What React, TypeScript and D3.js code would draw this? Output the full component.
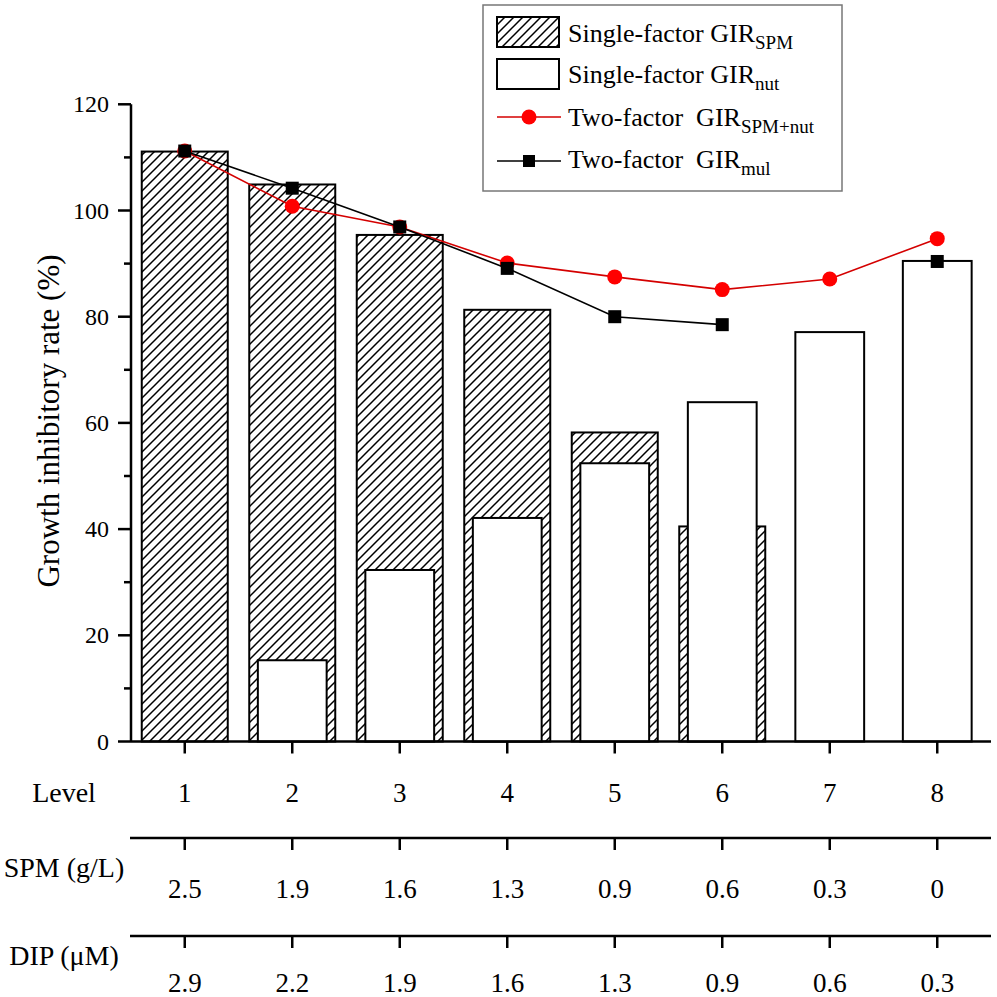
import { useEffect, useRef } from 'react'
import * as d3 from 'd3'

const levels = [1, 2, 3, 4, 5, 6, 7, 8]
const spmLabels = ['2.5', '1.9', '1.6', '1.3', '0.9', '0.6', '0.3', '0']
const dipLabels = ['2.9', '2.2', '1.9', '1.6', '1.3', '0.9', '0.6', '0.3']
const yTicks = [0, 20, 40, 60, 80, 100, 120]

// single-factor bars (null = no bar)
const girSpm = [111.1, 104.9, 95.4, 81.3, 58.2, 40.5, null, null]
const girNut = [null, 15.3, 32.3, 42.1, 52.4, 63.9, 77.1, 90.5]
// two-factor lines
const girSpmNut = [111.2, 100.8, 96.9, 90.1, 87.5, 85.1, 87.1, 94.7]
const girMul = [111.2, 104.2, 96.9, 89.1, 80.0, 78.5, null, 90.4]

const FONT = '"Liberation Serif", "Times New Roman", serif'

export default function App() {
  const ref = useRef<SVGSVGElement>(null)

  useEffect(() => {
    document.body.style.margin = '0'
    if (!ref.current) return
    const svg = d3.select(ref.current)
    svg.selectAll('*').remove()

    const x = d3.scaleLinear().domain([0.5, 8.5]).range([131, 991])
    const y = d3.scaleLinear().domain([0, 120]).range([741.5, 104.3])
    const step = x(2) - x(1)

    const defs = svg.append('defs')
    const pat = defs.append('pattern')
      .attr('id', 'hatch')
      .attr('patternUnits', 'userSpaceOnUse')
      .attr('width', 9).attr('height', 9)
    pat.append('rect').attr('width', 9).attr('height', 9).attr('fill', '#fff')
    pat.append('path')
      .attr('d', 'M0,9 L9,0 M-2,2 L2,-2 M7,11 L11,7')
      .attr('stroke', '#000').attr('stroke-width', 1.5)

    const g = svg.append('g').style('font-family', FONT)

    // hatched bars
    const hw = step * 0.8
    levels.forEach((lv, i) => {
      const v = girSpm[i]
      if (v == null) return
      g.append('rect')
        .attr('x', x(lv) - hw / 2).attr('y', y(v))
        .attr('width', hw).attr('height', y(0) - y(v))
        .attr('fill', 'url(#hatch)').attr('stroke', '#000').attr('stroke-width', 2)
    })

    // white bars
    const ww = step * 0.64
    levels.forEach((lv, i) => {
      const v = girNut[i]
      if (v == null) return
      g.append('rect')
        .attr('x', x(lv) - ww / 2).attr('y', y(v))
        .attr('width', ww).attr('height', y(0) - y(v))
        .attr('fill', '#fff').attr('stroke', '#000').attr('stroke-width', 2)
    })

    // y axis
    g.append('line').attr('x1', x(0.5)).attr('x2', x(0.5)).attr('y1', y(0)).attr('y2', y(120))
      .attr('stroke', '#000').attr('stroke-width', 2.5)
    d3.range(0, 121, 10).forEach(t => {
      const major = t % 20 === 0
      g.append('line')
        .attr('x1', x(0.5) - (major ? 13 : 7)).attr('x2', x(0.5))
        .attr('y1', y(t)).attr('y2', y(t))
        .attr('stroke', '#000').attr('stroke-width', 2.5)
    })
    yTicks.forEach(t => {
      g.append('text').attr('x', 109).attr('y', y(t) + 8)
        .attr('text-anchor', 'end').style('font-size', '24px').text(t)
    })

    g.append('text')
      .attr('transform', `translate(59,${421}) rotate(-90)`)
      .attr('text-anchor', 'middle').style('font-size', '31px')
      .text('Growth inhibitory rate (%)')

    // x axis and table rules
    const rules = [y(0), 838, 936]
    rules.forEach((ry, ri) => {
      g.append('line').attr('x1', ri === 0 ? x(0.5) : 130).attr('x2', x(8.5))
        .attr('y1', ry).attr('y2', ry).attr('stroke', '#000').attr('stroke-width', 2.5)
      levels.forEach(lv => {
        g.append('line').attr('x1', x(lv)).attr('x2', x(lv)).attr('y1', ry).attr('y2', ry + 12)
          .attr('stroke', '#000').attr('stroke-width', 2.5)
      })
    })

    const rows = [
      { label: 'Level', vals: levels.map(String), yLab: 802, yVal: 802 },
      { label: 'SPM (g/L)', vals: spmLabels, yLab: 877, yVal: 898 },
      { label: 'DIP (\u03bcM)', vals: dipLabels, yLab: 965, yVal: 992 },
    ]
    rows.forEach(r => {
      g.append('text').attr('x', 64).attr('y', r.yLab).attr('text-anchor', 'middle')
        .style('font-size', '28px').text(r.label)
      r.vals.forEach((v, i) => {
        g.append('text').attr('x', x(levels[i])).attr('y', r.yVal).attr('text-anchor', 'middle')
          .style('font-size', '27px').text(v)
      })
    })

    // lines
    const line = d3.line<number | null>()
      .defined(d => d != null)
      .x((_, i) => x(levels[i]))
      .y(d => y(d as number))

    g.append('path').datum(girSpmNut).attr('d', line).attr('fill', 'none')
      .attr('stroke', '#d40000').attr('stroke-width', 1.6)
    levels.forEach((lv, i) => {
      const v = girSpmNut[i]
      if (v == null) return
      g.append('circle').attr('cx', x(lv)).attr('cy', y(v)).attr('r', 7.5).attr('fill', '#f00')
    })

    g.append('path').datum(girMul).attr('d', line).attr('fill', 'none')
      .attr('stroke', '#000').attr('stroke-width', 1.6)
    levels.forEach((lv, i) => {
      const v = girMul[i]
      if (v == null) return
      g.append('rect').attr('x', x(lv) - 6.5).attr('y', y(v) - 6.5)
        .attr('width', 13).attr('height', 13).attr('fill', '#000')
    })

    // legend
    const lg = g.append('g')
    lg.append('rect').attr('x', 483).attr('y', 5).attr('width', 359).attr('height', 186)
      .attr('fill', '#fff').attr('stroke', '#777').attr('stroke-width', 1.5)
    lg.append('rect').attr('x', 497).attr('y', 17).attr('width', 62).attr('height', 30)
      .attr('fill', 'url(#hatch)').attr('stroke', '#000').attr('stroke-width', 2)
    lg.append('rect').attr('x', 497).attr('y', 59).attr('width', 62).attr('height', 30)
      .attr('fill', '#fff').attr('stroke', '#000').attr('stroke-width', 2)
    lg.append('line').attr('x1', 497).attr('x2', 561).attr('y1', 117).attr('y2', 117)
      .attr('stroke', '#d40000').attr('stroke-width', 1.6)
    lg.append('circle').attr('cx', 529).attr('cy', 117).attr('r', 7.5).attr('fill', '#f00')
    lg.append('line').attr('x1', 497).attr('x2', 561).attr('y1', 161).attr('y2', 161)
      .attr('stroke', '#000').attr('stroke-width', 1.6)
    lg.append('rect').attr('x', 523).attr('y', 155).attr('width', 12).attr('height', 12).attr('fill', '#000')

    const legendItems = [
      { main: 'Single-factor GIR', sub: 'SPM', y: 42 },
      { main: 'Single-factor GIR', sub: 'nut', y: 83 },
      { main: 'Two-factor  GIR', sub: 'SPM+nut', y: 126 },
      { main: 'Two-factor  GIR', sub: 'mul', y: 168 },
    ]
    legendItems.forEach(it => {
      const t = lg.append('text').attr('x', 568).attr('y', it.y)
        .style('font-size', '26px').style('white-space', 'pre')
      t.append('tspan').text(it.main)
      t.append('tspan').attr('dy', 7).style('font-size', '19px').text(it.sub)
    })
  }, [])

  return <svg ref={ref} width={997} height={997} style={{ display: 'block', background: '#fff' }} />
}
